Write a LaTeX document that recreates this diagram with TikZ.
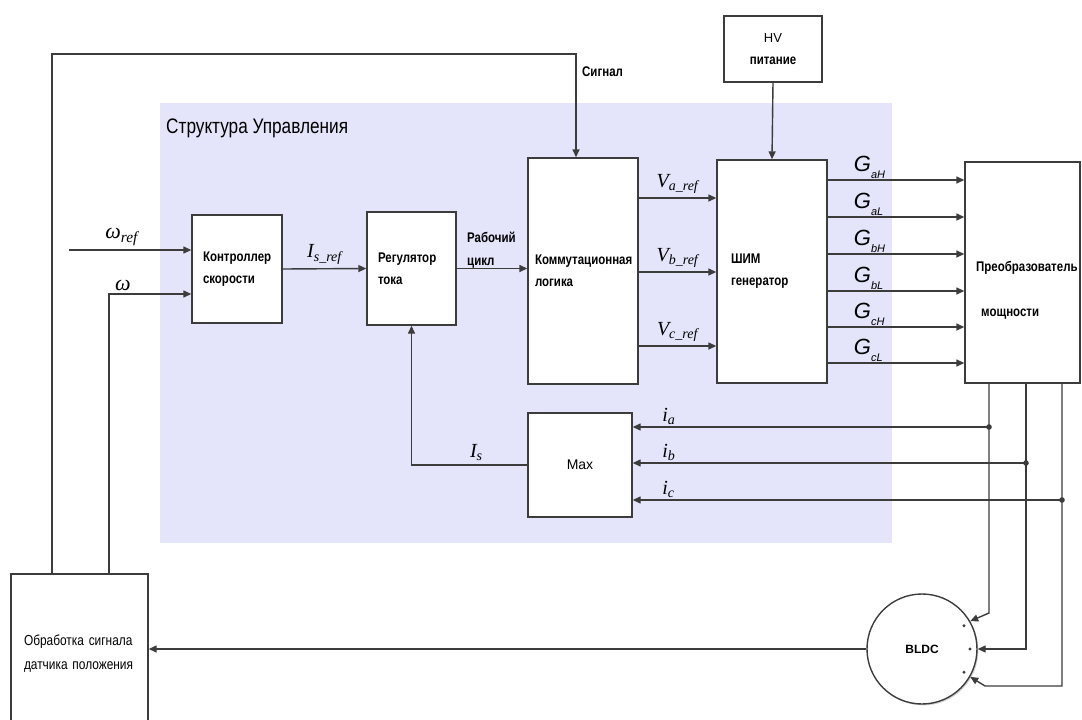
\documentclass[tikz,border=0pt]{standalone}
\usepackage{fontspec}
\setmainfont{Liberation Sans}
\newfontfamily\narrowsf[FakeStretch=0.82]{Liberation Sans}
\newfontfamily\timesit{Liberation Serif}
\usetikzlibrary{arrows.meta, shadows}

\definecolor{areablue}{RGB}{228,228,250}
\definecolor{linegray}{RGB}{60,60,60}

\newcommand{\gsub}[1]{\raisebox{-7pt}{\fontsize{11}{11}\selectfont #1}}

\tikzset{
  blk/.style={draw=linegray, line width=1.4pt, fill=white, align=left, inner sep=0pt,
    drop shadow={shadow xshift=1.4pt, shadow yshift=-1.4pt, opacity=0.35},
    font=\narrowsf\bfseries\fontsize{14}{22}\selectfont},
  wire/.style={->, draw=linegray, line width=1.4pt},
  sig/.style={font=\timesit\itshape\fontsize{20}{20}\selectfont, inner sep=1pt},
  gate/.style={font=\itshape\fontsize{22}{22}\selectfont, inner sep=1pt},
  note/.style={font=\narrowsf\bfseries\fontsize{14}{23}\selectfont, align=left, inner sep=0pt},
}

\begin{document}
\begin{tikzpicture}[x=1pt, y=-1pt, >={Triangle[length=8pt, width=7pt]}]
  \useasboundingbox (0,0) rectangle (1082,720);

  % control structure area
  \fill[areablue] (160,103) rectangle (892,543);
  \node[anchor=west, inner sep=0pt, font=\narrowsf\fontsize{21}{21}\selectfont] (title) at (166,128) {Структура Управления};

  % blocks
  \node[blk, minimum width=90, minimum height=108, text width=68] (ctrl) at (237,269) {Контроллер\\скорости};
  \node[blk, minimum width=89, minimum height=113, text width=67] (reg) at (411.5,268.5) {Регулятор\\тока};
  \node[blk, minimum width=110, minimum height=226, text width=96] (comm) at (583,271) {Коммутационная\\логика};
  \node[blk, minimum width=110, minimum height=223, text width=82] (pwm) at (772,271.5) {ШИМ\\генератор};
  \node[blk, minimum height=66, text width=98, align=center] (hv) at (773,49) {{\normalfont\fontsize{13}{22}\selectfont HV}\\питание};
  \node[blk, minimum width=115, minimum height=221] (conv) at (1022.5,272.5) {};
  \node[note, anchor=west] (convtxt) at (976,290) {Преобразователь\\[22pt]\hspace{5pt}мощности};
  \node[blk, minimum width=104, minimum height=104, align=center, font=\fontsize{14}{14}\selectfont] (max) at (580,465) {Max};
  \node[blk, minimum width=137, minimum height=160, text width=111, font=\narrowsf\fontsize{14.5}{24}\selectfont] (sens) at (79.5,654) {Обработка сигнала\\датчика положения};
  \node[blk, circle, minimum size=110, align=center, font=\bfseries\fontsize{12}{12}\selectfont] (bldc) at (922,649) {BLDC};
  \foreach \a in {-29,0,29}
    \fill[linegray] ([shift={(\a:48)}]bldc.center) circle (1.7);

  % inputs
  \coordinate (wref) at (69,250);
  \draw[wire] (wref) -- (ctrl.west |- wref) node[sig, pos=0.43, above=3pt, font=\timesit\itshape\fontsize{22}{22}\selectfont] {ω\textsubscript{ref}};
  \coordinate (wfb) at (109,294);
  \draw[wire] (sens.north -| wfb) -- (wfb) -- (ctrl.west |- wfb) node[sig, pos=0.17, above=2pt, font=\timesit\itshape\fontsize{22}{22}\selectfont] {ω};

  % forward path
  \draw[wire] (ctrl.east) -- (reg.west) node[sig, midway, above=3pt] {I\textsubscript{s\_ref}};
  \draw[wire] (reg.east) -- (comm.west |- reg.east);
  \node[note, anchor=west] (duty) at (467,250) {Рабочий\\цикл};
  \foreach \y/\s in {198/a, 272/b, 346/c}
    \draw[wire] (comm.east |- 0,\y) -- (pwm.west |- 0,\y) node[sig, midway, above=3pt] {V\textsubscript{\s\_ref}};
  \foreach \y/\s in {180/aH, 217/aL, 254/bH, 291/bL, 327/cH, 363/cL}
    \draw[wire] (pwm.east |- 0,\y) -- (conv.west |- 0,\y) node[gate, anchor=south west, pos=0.18] {G\gsub{\s}};
  \draw[wire] (hv.south) -- (pwm.north);

  % position signal
  \coordinate (sigtop) at (52,54);
  \draw[wire] (sens.north -| sigtop) -- (sigtop) -| ([xshift=-7pt]comm.north);
  \node[note, anchor=west] (signal) at (582,72) {Сигнал};

  % current feedback
  \coordinate (ja) at (989,427);
  \coordinate (jb) at (1026,463);
  \coordinate (jc) at (1062,500);
  \foreach \j/\s in {ja/a, jb/b, jc/c} {
    \draw[wire] (\j) -- (max.east |- \j) node[sig, at end, anchor=south west, xshift=28pt, yshift=1pt] {i\textsubscript{\s}};
    \fill[linegray] (\j) circle (2.8);
  }
  \draw[wire] (max.west) -| (reg.south) node[sig, pos=0.22, above=3pt] {I\textsubscript{s}};

  % motor phases
  \coordinate (ka) at (989,613);
  \coordinate (kc) at (1062,686);
  \coordinate (kc2) at (985,686);
  \draw[wire] (conv.south -| ja) -- (ka) -- (bldc.30);
  \draw[wire] (conv.south -| jb) -- (jb |- bldc.east) -- (bldc.east);
  \draw[wire] (conv.south -| jc) -- (kc) -- (kc2) -- (bldc.-30);

  % sensor
  \draw[wire] (bldc.west) -- (bldc.west -| sens.east);
\end{tikzpicture}
\end{document}
